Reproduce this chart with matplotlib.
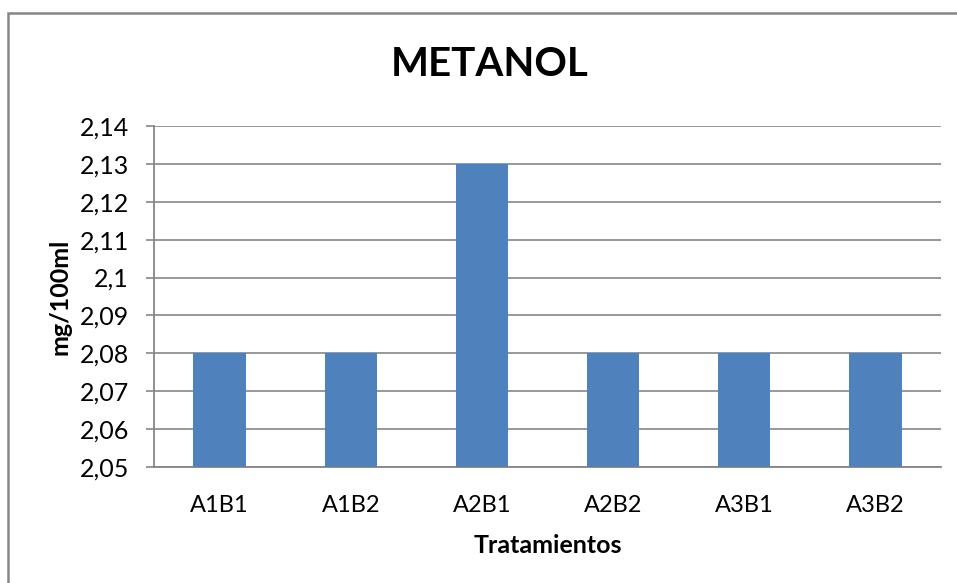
import matplotlib
matplotlib.use("Agg")
import matplotlib.pyplot as plt
from matplotlib.patches import Rectangle
from matplotlib.ticker import FixedLocator, FixedFormatter

plt.rcParams['font.family'] = ['Lato', 'DejaVu Sans']

categories = ["A1B1", "A1B2", "A2B1", "A2B2", "A3B1", "A3B2"]
values = [2.08, 2.08, 2.13, 2.08, 2.08, 2.08]
y_ticks = [2.05, 2.06, 2.07, 2.08, 2.09, 2.10, 2.11, 2.12, 2.13, 2.14]
y_tick_labels = ["2,05", "2,06", "2,07", "2,08", "2,09", "2,1", "2,11", "2,12", "2,13", "2,14"]

W, H = 957, 583
fig = plt.figure(figsize=(W / 100, H / 100), dpi=100)
fig.patch.set_facecolor("white")

# plot area in pixel coordinates
left, right, top, bottom = 154, 941, 126, 467
ax = fig.add_axes([left / W, 1 - bottom / H, (right - left) / W, (bottom - top) / H])

grid_color = "#868686"
x = list(range(len(categories)))
ax.bar(x, [v - y_ticks[0] for v in values], bottom=y_ticks[0], width=0.4,
       color="#4F81BD", zorder=3)

ax.set_xlim(-0.5, len(categories) - 0.5)
ax.set_ylim(y_ticks[0], y_ticks[-1])
ax.yaxis.set_major_locator(FixedLocator(y_ticks))
ax.yaxis.set_major_formatter(FixedFormatter(y_tick_labels))
ax.set_xticks(x)
ax.set_xticklabels(categories)

ax.grid(axis="y", color=grid_color, linewidth=1.2, zorder=0)
for s in ("top", "right"):
    ax.spines[s].set_visible(False)
for s in ("left", "bottom"):
    ax.spines[s].set_color(grid_color)
    ax.spines[s].set_linewidth(1.3)

ax.tick_params(axis="y", length=6, width=1.2, color=grid_color, pad=12,
               labelsize=18, labelcolor="black")
ax.tick_params(axis="x", length=0, pad=20, labelsize=17, labelcolor="black")

ax.set_ylabel("mg/100ml", fontsize=18, fontweight="bold", labelpad=6)
ax.set_xlabel("Tratamientos", fontsize=18, fontweight="bold", labelpad=13)

fig.text(490 / W, 1 - 65 / H, "METANOL", fontsize=29, fontweight="bold",
         ha="center", va="center")

# chart frame
fig.patches.append(Rectangle((8 / W, -0.1), 1.5, 1 - 13 / H + 0.1,
                             transform=fig.transFigure, fill=False,
                             edgecolor=grid_color, linewidth=1.8))

fig.savefig("out.png", dpi=100)
